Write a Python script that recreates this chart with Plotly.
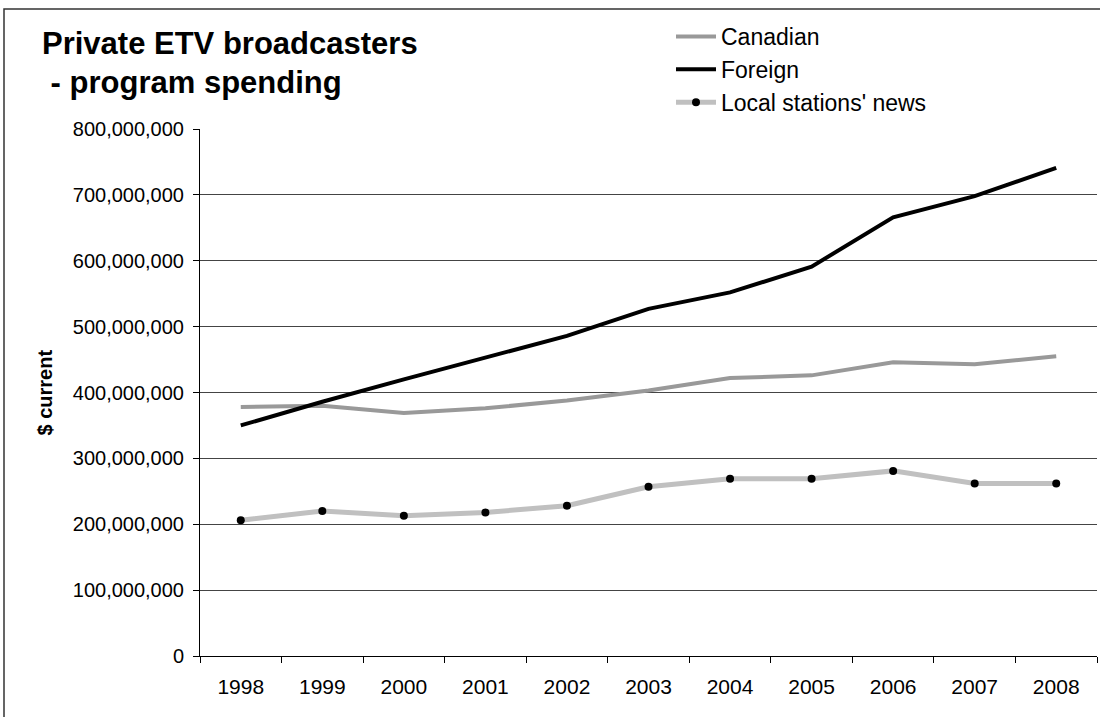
import plotly.graph_objects as go

years = ["1998", "1999", "2000", "2001", "2002", "2003", "2004", "2005", "2006", "2007", "2008"]
canadian = [378e6, 380e6, 369e6, 376e6, 388e6, 403e6, 422e6, 426e6, 446e6, 443e6, 455e6]
foreign = [350e6, 386e6, 420e6, 453e6, 486e6, 527e6, 552e6, 591e6, 666e6, 698e6, 741e6]
local_news = [206e6, 220e6, 213e6, 218e6, 228e6, 257e6, 269e6, 269e6, 281e6, 262e6, 262e6]

FONT = "Liberation Sans, Arial, sans-serif"

fig = go.Figure()
fig.add_trace(go.Scatter(x=years, y=canadian, name="Canadian", mode="lines",
                         line=dict(color="#999999", width=4)))
fig.add_trace(go.Scatter(x=years, y=foreign, name="Foreign", mode="lines",
                         line=dict(color="#000000", width=4)))
fig.add_trace(go.Scatter(x=years, y=local_news, name="Local stations' news", mode="lines+markers",
                         line=dict(color="#c0c0c0", width=5),
                         marker=dict(color="#000000", size=8)))

L, R, T, B = 200, 3, 129, 61
W, H = 1100, 717
pw = W - L - R
ph = H - T - B

def px_x(x):
    return (x - L) / pw

def px_y(y):
    return (H - B - y) / ph

fig.update_layout(
    width=W, height=H,
    margin=dict(l=L, r=R, t=T, b=B),
    paper_bgcolor="white", plot_bgcolor="white",
    font=dict(family=FONT, color="black", size=20),
    showlegend=True,
    legend=dict(x=px_x(671), y=px_y(15), xanchor="left", yanchor="top",
                font=dict(size=23, family=FONT), bgcolor="rgba(0,0,0,0)",
                tracegroupgap=0, itemwidth=40),
    xaxis=dict(type="category", showline=True, linecolor="black", linewidth=1,
               ticks="outside", ticklen=6, tickcolor="black", tickson="boundaries",
               showgrid=False, tickfont=dict(size=21), range=[-0.5, 10.5],
               ticklabelstandoff=12),
    yaxis=dict(range=[0, 800e6], dtick=100e6, tickformat=",d", showline=True,
               linecolor="black", linewidth=1, ticks="outside", ticklen=6,
               tickcolor="black", showgrid=True, gridcolor="#444444", gridwidth=1,
               tickfont=dict(size=20), zeroline=False, ticklabelstandoff=5),
    annotations=[
        dict(text="<b>Private ETV broadcasters</b>",
             xref="paper", yref="paper", x=px_x(40), y=px_y(43), xanchor="left",
             yanchor="middle", align="left", showarrow=False,
             font=dict(size=31, family=FONT, color="black")),
        dict(text="<b>\u00a0- program spending</b>",
             xref="paper", yref="paper", x=px_x(40), y=px_y(82), xanchor="left",
             yanchor="middle", align="left", showarrow=False,
             font=dict(size=31, family=FONT, color="black")),
        dict(text="<b>$ current</b>", xref="paper", yref="paper", x=px_x(44), y=0.5,
             xanchor="center", yanchor="middle", textangle=-90, showarrow=False,
             font=dict(size=20, family=FONT, color="black")),
    ],
    shapes=[
        dict(type="rect", xref="paper", yref="paper", x0=px_x(4), x1=px_x(1110),
             y0=px_y(730), y1=px_y(9), line=dict(color="#333333", width=1.5),
             layer="below"),
    ],
)

fig.write_html("out.html")
